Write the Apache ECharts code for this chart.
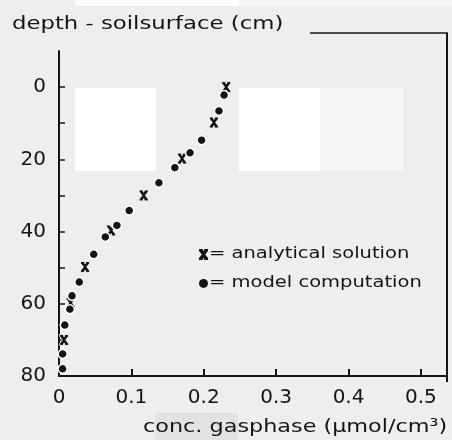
<!DOCTYPE html>
<html>
<head>
<meta charset="utf-8">
<script src="https://cdn.jsdelivr.net/npm/echarts@6/dist/echarts.min.js"></script>
<style>
html,body{margin:0;padding:0;background:#eeeeee;}
#c{width:452px;height:440px;}
</style>
</head>
<body>
<div id="c"></div>
<script>
// ---- data ----
const xTicks = [0, 0.1, 0.2, 0.3, 0.4, 0.5];
const yTicks = [0, 10, 20, 30, 40, 50, 60, 70, 80];
const yLabels = [0, 20, 40, 60, 80];

const modelConc  = [0.228, 0.221, 0.197, 0.181, 0.160, 0.138, 0.097, 0.080, 0.064, 0.048, 0.028, 0.018, 0.015, 0.008, 0.005, 0.005];
const modelDepth = [2.2,   6.6,   14.7,  18.2,  22.3,  26.5,  34.2,  38.3,  41.5,  46.3,  54.0,  57.8,  61.5,  65.9,  73.9,  78.0];

const analConc  = [0.231, 0.214, 0.170, 0.117, 0.072, 0.036, 0.016, 0.007];
const analDepth = [0.0,   9.8,   19.8,  30.0,  39.7,  49.8,  59.7,  70.0];

const yTitle = 'depth - soilsurface (cm)';
const xTitle = 'conc. gasphase (μmol/cm³)';
const seriesNames = ['analytical solution', 'model computation'];

const xMin = 0, xMax = 0.536, yMin = -10, yMax = 80, frameTop = -15;

const FONT = 'DejaVu Sans';
const INK = '#141414';
const xSym = 'path://M0,0L4,0L5,2.6L6,0L10,0L10,2L6.9,6L10,10L10,12L6,12L5,9.4L4,12L0,12L0,10L3.1,6L0,2Z';

const chart = echarts.init(document.getElementById('c'), null, {renderer: 'canvas'});

const option = {
  backgroundColor: '#eeeeee',
  animation: false,
  grid: {left: 59, right: 5, top: 51, bottom: 64, containLabel: false},
  legend: {
    orient: 'vertical', left: 199, top: 249, itemGap: 18, padding: 0,
    itemWidth: 9, itemHeight: 11,
    itemStyle: {color: INK, borderWidth: 0, opacity: 1},
    textStyle: {fontFamily: FONT, fontSize: 1, color: 'rgba(0,0,0,0)'},
    formatter: () => '',
    data: [{name: seriesNames[0], icon: xSym}, {name: seriesNames[1], icon: 'circle'}]
  },
  xAxis: {
    type: 'value', min: xMin, max: xMax, interval: 0.1,
    splitLine: {show: false},
    axisLine: {show: true, onZero: false, lineStyle: {color: INK, width: 2}},
    axisTick: {show: true, inside: true, length: 7, lineStyle: {color: INK, width: 2}, customValues: xTicks.slice(1)},
    axisLabel: {show: true, margin: 12, fontFamily: FONT, fontSize: 20, color: INK,
      customValues: xTicks, formatter: v => (v === 0 ? '0' : v.toFixed(1))}
  },
  yAxis: {
    type: 'value', inverse: true, min: yMin, max: yMax, interval: 10,
    splitLine: {show: false},
    axisLine: {show: true, onZero: false, lineStyle: {color: INK, width: 2}},
    axisTick: {show: true, inside: true, length: 6, lineStyle: {color: INK, width: 1.5}, customValues: yTicks},
    axisLabel: {show: true, margin: 13, fontFamily: FONT, fontSize: 20, color: INK,
      customValues: yLabels}
  },
  series: [
    {
      name: seriesNames[0], type: 'scatter', symbol: xSym, symbolSize: [9, 11],
      itemStyle: {color: INK, opacity: 1, borderColor: '#ffffff', borderWidth: 0.8},
      data: analConc.map((c, i) => [c, analDepth[i]]), z: 3
    },
    {
      name: seriesNames[1], type: 'scatter', symbol: 'circle', symbolSize: 9,
      itemStyle: {color: INK, opacity: 1, borderColor: '#ffffff', borderWidth: 1.5},
      data: modelConc.map((c, i) => [c, modelDepth[i]]), z: 4
    }
  ]
};
chart.setOption(option);

// frame lines (top-right box), wide lettering and scan artefact patches
const pTopRight = chart.convertToPixel({gridIndex: 0}, [xMax, frameTop]);
const pBottom = chart.convertToPixel({gridIndex: 0}, [xMax, yMax]);
function wideText(str, x, y, size, sx) {
  return {type: 'text', x: x, y: y, scaleX: sx, z: 20,
    style: {text: str, fontFamily: FONT, fontSize: size, fill: INK, verticalAlign: 'middle', align: 'left'}};
}
chart.setOption({
  graphic: [
    {type: 'rect', z: -10, shape: {x: 75, y: 88, width: 81, height: 83}, style: {fill: '#ffffff'}},
    {type: 'rect', z: -10, shape: {x: 239, y: 88, width: 81, height: 83}, style: {fill: '#ffffff'}},
    {type: 'rect', z: -10, shape: {x: 320, y: 88, width: 83, height: 83}, style: {fill: '#f7f7f7'}},
    {type: 'rect', z: -10, shape: {x: 75, y: 0, width: 163, height: 6}, style: {fill: '#ffffff'}},
    {type: 'rect', z: -10, shape: {x: 238, y: 0, width: 214, height: 6}, style: {fill: '#f6f6f6'}},
    {type: 'rect', z: -10, shape: {x: 155, y: 413, width: 83, height: 27}, style: {fill: '#e2e2e2'}},
    {type: 'line', z: 10, shape: {x1: 310, y1: pTopRight[1], x2: pTopRight[0] + 1, y2: pTopRight[1]},
     style: {stroke: INK, lineWidth: 1.6}},
    {type: 'line', z: 10, shape: {x1: pTopRight[0], y1: pTopRight[1], x2: pTopRight[0], y2: pBottom[1] + 6},
     style: {stroke: INK, lineWidth: 2}},
    wideText(yTitle, 12, 24, 18, 1.265),
    wideText(xTitle, 143, 427, 18, 1.24),
    wideText('= ' + seriesNames[0], 209, 254, 15, 1.3),
    wideText('= ' + seriesNames[1], 209, 283, 15, 1.3)
  ]
});
</script>
</body>
</html>
